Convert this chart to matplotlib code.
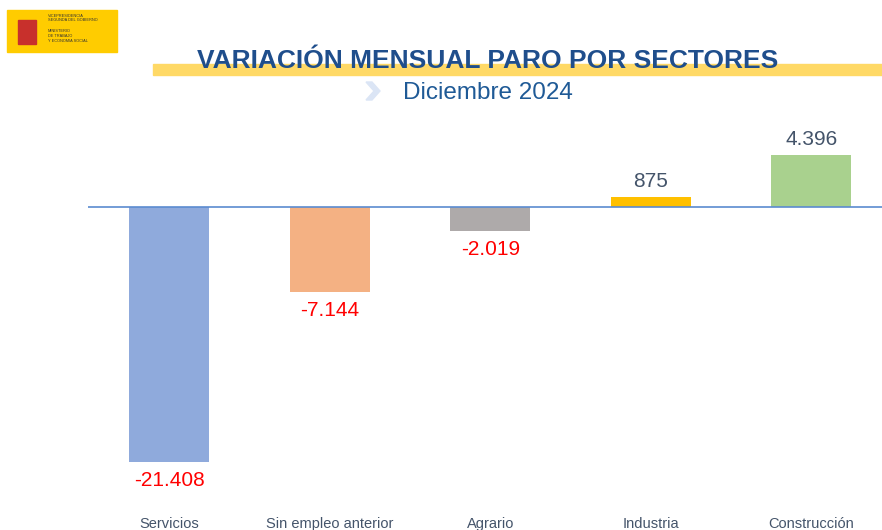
import matplotlib.pyplot as plt
from matplotlib.patches import Rectangle, Polygon

plt.rcParams['font.family'] = ['Liberation Sans', 'DejaVu Sans']

sectores = ["Servicios", "Sin empleo anterior", "Agrario", "Industria", "Construcción"]
variacion = [-21408, -7144, -2019, 875, 4396]
etiquetas = ["-21.408", "-7.144", "-2.019", "875", "4.396"]
colores = ["#8faadc", "#f4b183", "#aeaaaa", "#ffc000", "#a9d18e"]

W, H = 882, 530
fig = plt.figure(figsize=(W / 100, H / 100), dpi=100)

# bar area (pixel coords converted to figure fractions)
ax = fig.add_axes([88 / W, 1 - 480 / H, (882 - 88) / W, (480 - 130) / H])
x = list(range(len(sectores)))
ax.bar(x, variacion, width=0.5, color=colores, zorder=2)
ax.axhline(0, color="#5b8bd0", lw=1.2, zorder=3)
ax.set_xlim(-0.505, 4.44)
ax.set_ylim(-22922, 6465)
ax.axis("off")

for xi, v, lab in zip(x, variacion, etiquetas):
    if v < 0:
        ax.annotate(lab, (xi, v), xytext=(0, -6.5), textcoords="offset points",
                    ha="center", va="top", fontsize=15, color="#ff0000")
    else:
        ax.annotate(lab, (xi, v), xytext=(0, 4), textcoords="offset points",
                    ha="center", va="bottom", fontsize=15, color="#44546a")

# category names at the bottom
for xi, s in zip(x, sectores):
    ax.annotate(s, (xi, -22922), xytext=(0, -32), textcoords="offset points",
                ha="center", va="center", fontsize=10.5, color="#44546a",
                annotation_clip=False)

# title band and texts
fig.patches.append(Rectangle((153 / W, 1 - 75 / H), (882 - 153) / W, 11 / H,
                             transform=fig.transFigure, color="#ffd966", zorder=0))
fig.text(488 / W, 1 - 61 / H, "VARIACIÓN MENSUAL PARO POR SECTORES", ha="center",
         va="center", fontsize=19, fontweight="bold", color="#1f4e8c")
fig.text(488 / W, 1 - 93 / H, "Diciembre 2024", ha="center", va="center",
         fontsize=17.5, color="#1f5a96")
fig.patches.append(Polygon([(366 / W, 1 - 82 / H), (372 / W, 1 - 82 / H),
                            (380 / W, 1 - 91 / H), (372 / W, 1 - 100 / H),
                            (366 / W, 1 - 100 / H), (374 / W, 1 - 91 / H)],
                           closed=True, transform=fig.transFigure, color="#dbe5f5"))

# logo block
fig.patches.append(Rectangle((7 / W, 1 - 52 / H), 110 / W, 42 / H,
                             transform=fig.transFigure, color="#ffcc00"))
fig.patches.append(Rectangle((18 / W, 1 - 44 / H), 18 / W, 24 / H,
                             transform=fig.transFigure, color="#c8302c"))
fig.text(48 / W, 1 - 18 / H, "VICEPRESIDENCIA\nSEGUNDA DEL GOBIERNO", fontsize=2.8,
         va="center", color="#333333", linespacing=1.2)
fig.text(48 / W, 1 - 36 / H, "MINISTERIO\nDE TRABAJO\nY ECONOMÍA SOCIAL", fontsize=2.8,
         va="center", color="#333333", linespacing=1.2)

fig.savefig("out.png", dpi=100)
